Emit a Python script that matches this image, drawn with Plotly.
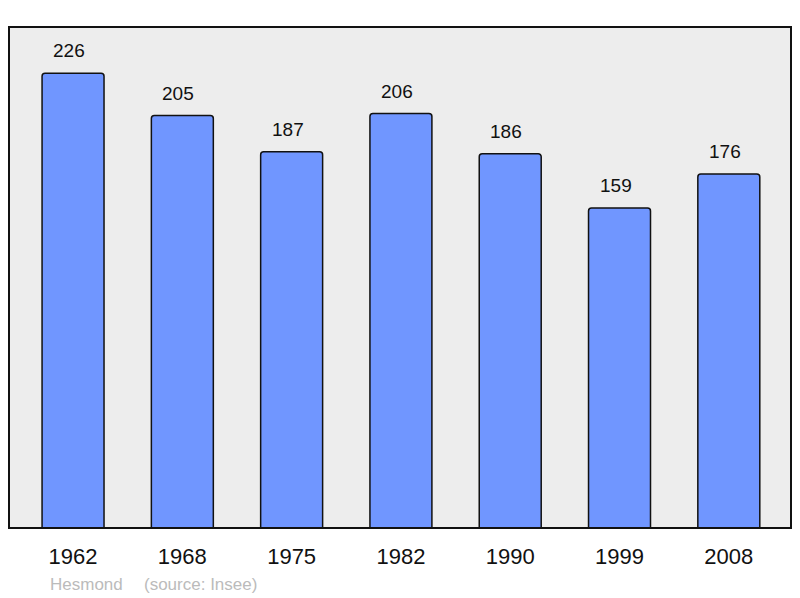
import plotly.graph_objects as go

years = ["1962", "1968", "1975", "1982", "1990", "1999", "2008"]
population = [226, 205, 187, 206, 186, 159, 176]
footer_name = "Hesmond"
footer_source = "(source: Insee)"

FONT = "Liberation Sans, Arial"

fig = go.Figure()
fig.add_trace(go.Bar(
    x=years, y=population,
    width=0.567,
    marker=dict(color="#7096ff", line=dict(color="#111111", width=1.5)),
    hoverinfo="skip",
))

for i, v in enumerate(population):
    fig.add_annotation(x=i, y=v, text=str(v), showarrow=False,
                       yanchor="bottom", yshift=10, xshift=-4,
                       font=dict(family=FONT, size=19, color="#111111"))

# plot area in figure coords: x 1..783, y 19..520
fig.add_annotation(xref="paper", yref="paper", x=(40 - 1) / 782, y=-56 / 501,
                   xanchor="left", yanchor="middle", showarrow=False,
                   text=footer_name,
                   font=dict(family=FONT, size=17, color="#bbbbbb"))
fig.add_annotation(xref="paper", yref="paper", x=(134 - 1) / 782, y=-56 / 501,
                   xanchor="left", yanchor="middle", showarrow=False,
                   text=footer_source,
                   font=dict(family=FONT, size=17, color="#bbbbbb"))

fig.add_shape(type="rect", xref="paper", yref="paper", x0=0, y0=0, x1=1, y1=1,
              line=dict(color="#111111", width=2), fillcolor="rgba(0,0,0,0)", layer="above")

fig.update_layout(
    width=792, height=590,
    margin=dict(l=1, r=9, t=19, b=70),
    paper_bgcolor="white", plot_bgcolor="#ededed",
    showlegend=False, barcornerradius=3,
    xaxis=dict(type="category", range=[-0.586, 6.569], showgrid=False, zeroline=False,
               ticks="", ticklabelstandoff=13,
               tickfont=dict(family=FONT, size=22, color="#111111")),
    yaxis=dict(range=[0, 249], showgrid=False, zeroline=False, showticklabels=False, ticks=""),
)

fig.write_html("out.html")
